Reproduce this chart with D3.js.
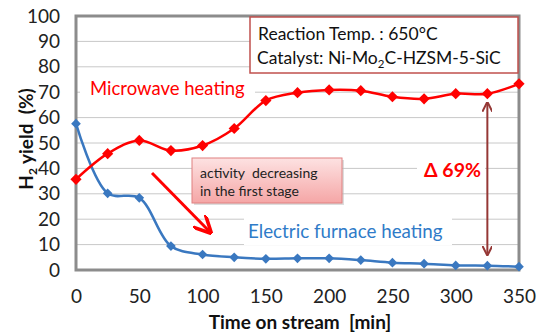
<!DOCTYPE html>
<html>
<head>
<meta charset="utf-8">
<script src="https://cdn.jsdelivr.net/npm/d3@7"></script>
<style>
  body { margin: 0; background: #fff; }
  svg { font-family: Lato, "Open Sans", sans-serif; }
  text { white-space: pre; }
</style>
</head>
<body>
<div id="chart"></div>
<script>
const times = [0, 25, 50, 75, 100, 125, 150, 175, 200, 225, 250, 275, 300, 325, 350];
const microwave = [35.7, 45.8, 51, 47, 49, 55.7, 66.7, 69.8, 70.9, 70.6, 68.2, 67.4, 69.4, 69.4, 73.3];
const electric = [57.6, 30.2, 28.4, 9.4, 6.1, 5, 4.4, 4.6, 4.6, 3.9, 2.9, 2.5, 1.8, 1.7, 1.3];
const xTicks = [0, 50, 100, 150, 200, 250, 300, 350];
const yTicks = [0, 10, 20, 30, 40, 50, 60, 70, 80, 90, 100];

const width = 538, height = 332;
const margin = { top: 16, right: 19, bottom: 62, left: 76 };

const svg = d3.select('#chart').append('svg')
    .attr('width', width)
    .attr('height', height);

const x = d3.scaleLinear().domain([0, 350]).range([margin.left, width - margin.right]);
const y = d3.scaleLinear().domain([0, 100]).range([height - margin.bottom, margin.top]);

// grid
svg.append('g')
    .selectAll('line')
    .data(yTicks.slice(1))
    .enter().append('line')
    .attr('x1', x(0)).attr('x2', x(350))
    .attr('y1', d => y(d)).attr('y2', d => y(d))
    .attr('stroke', '#c8c8c8')
    .attr('stroke-width', 1);

// frame
svg.append('rect')
    .attr('x', x(0)).attr('y', y(100))
    .attr('width', x(350) - x(0)).attr('height', y(0) - y(100))
    .attr('fill', 'none')
    .attr('stroke', '#8c8c8c')
    .attr('stroke-width', 3);

// axes
const yAxis = svg.append('g')
    .attr('transform', `translate(${x(0) - 16},0)`)
    .call(d3.axisLeft(y).tickValues(yTicks).tickSize(0).tickPadding(0));
yAxis.select('.domain').remove();
yAxis.selectAll('text')
    .attr('font-size', 19)
    .attr('font-family', 'Lato, sans-serif')
    .attr('fill', '#222');

const xAxis = svg.append('g')
    .attr('transform', `translate(0,${y(0) + 19})`)
    .call(d3.axisBottom(x).tickValues(xTicks).tickSize(0).tickPadding(0));
xAxis.select('.domain').remove();
xAxis.selectAll('text')
    .attr('font-size', 19)
    .attr('font-family', 'Lato, sans-serif')
    .attr('fill', '#222');

// axis titles
svg.append('text')
    .attr('x', 300).attr('y', 329)
    .attr('text-anchor', 'middle')
    .attr('font-size', 19)
    .attr('font-weight', 'bold')
    .attr('fill', '#111')
    .text('Time on stream  [min]');

const yTitle = svg.append('text')
    .attr('transform', 'translate(33,139) rotate(-90)')
    .attr('text-anchor', 'middle')
    .attr('font-size', 19)
    .attr('font-weight', 'bold')
    .attr('fill', '#111');
yTitle.append('tspan').text('H');
yTitle.append('tspan').attr('font-size', 12).attr('dy', 4).text('2');
yTitle.append('tspan').attr('dy', -4).text(' yield  (%)');

// label backgrounds
svg.append('rect').attr('x', 80).attr('y', 73).attr('width', 175).attr('height', 31).attr('fill', '#fff');
svg.append('rect').attr('x', 244).attr('y', 218).attr('width', 208).attr('height', 27).attr('fill', '#fff');
svg.append('rect').attr('x', 417).attr('y', 153).attr('width', 68).attr('height', 34).attr('fill', '#fff');

// series
const line = d3.line()
    .x((d, i) => x(times[i]))
    .y(d => y(d))
    .curve(d3.curveCatmullRom.alpha(0.5));

const diamond = d3.symbol().type(d3.symbolDiamond2);

function drawSeries(values, color, lw, size) {
    svg.append('path')
        .datum(values)
        .attr('d', line)
        .attr('fill', 'none')
        .attr('stroke', color)
        .attr('stroke-width', lw);
    svg.append('g')
        .selectAll('path')
        .data(values)
        .enter().append('path')
        .attr('transform', (d, i) => `translate(${x(times[i])},${y(d)})`)
        .attr('d', diamond.size(size))
        .attr('fill', color);
}

drawSeries(electric, '#3a78c0', 2.5, 60);
drawSeries(microwave, '#ff0000', 2.5, 80);

// series labels
svg.append('text')
    .attr('x', 90).attr('y', 95)
    .attr('font-size', 18.5)
    .attr('fill', '#ff0000')
    .text('Microwave heating');

svg.append('text')
    .attr('x', 248).attr('y', 238)
    .attr('font-size', 18.8)
    .attr('fill', '#2f7bc8')
    .text('Electric furnace heating');

svg.append('text')
    .attr('x', 424).attr('y', 177)
    .attr('font-size', 19.5)
    .attr('font-weight', 'bold')
    .attr('fill', '#ff0000')
    .text('Δ 69%');

// condition box
svg.append('rect')
    .attr('x', 250).attr('y', 17).attr('width', 268).attr('height', 56)
    .attr('fill', '#fff')
    .attr('stroke', '#c0504d')
    .attr('stroke-width', 1.5);
svg.append('text')
    .attr('x', 258).attr('y', 40)
    .attr('font-size', 17.5)
    .attr('fill', '#111')
    .text('Reaction Temp. : 650°C');
const cat = svg.append('text')
    .attr('x', 257).attr('y', 64)
    .attr('font-size', 17.5)
    .attr('fill', '#111');
cat.append('tspan').text('Catalyst: Ni-Mo');
cat.append('tspan').attr('font-size', 11.5).attr('dy', 4).text('2');
cat.append('tspan').attr('dy', -4).text('C-HZSM-5-SiC');

// arrows
const defs = svg.append('defs');
const grad = defs.append('linearGradient')
    .attr('id', 'pink').attr('x1', 0).attr('y1', 0).attr('x2', 0).attr('y2', 1);
grad.append('stop').attr('offset', '0%').attr('stop-color', '#fde2e2');
grad.append('stop').attr('offset', '100%').attr('stop-color', '#f5a6a6');

function marker(id, color, w) {
    defs.append('marker')
        .attr('id', id)
        .attr('viewBox', '0 0 10 10')
        .attr('refX', 8).attr('refY', 5)
        .attr('markerWidth', w).attr('markerHeight', w)
        .attr('orient', 'auto-start-reverse')
        .append('path')
        .attr('d', 'M0,0 L10,5 L0,10')
        .attr('fill', 'none')
        .attr('stroke', color)
        .attr('stroke-width', 2);
}
marker('redHead', '#ff0000', 6);
marker('darkHead', '#953735', 5);

svg.append('line')
    .attr('x1', 152).attr('y1', 173).attr('x2', 209).attr('y2', 231)
    .attr('stroke', '#ff0000')
    .attr('stroke-width', 3)
    .attr('marker-end', 'url(#redHead)');

svg.append('line')
    .attr('x1', x(325)).attr('y1', y(69.4) + 10)
    .attr('x2', x(325)).attr('y2', y(1.7) - 12)
    .attr('stroke', '#953735')
    .attr('stroke-width', 2)
    .attr('marker-start', 'url(#darkHead)')
    .attr('marker-end', 'url(#darkHead)');

// note box
svg.append('rect')
    .attr('x', 194).attr('y', 160).attr('width', 150).attr('height', 45)
    .attr('fill', '#bbb').attr('opacity', 0.5);
svg.append('rect')
    .attr('x', 192).attr('y', 158).attr('width', 150).attr('height', 45)
    .attr('fill', 'url(#pink)')
    .attr('stroke', '#e08080')
    .attr('stroke-width', 1);
svg.append('text')
    .attr('x', 200).attr('y', 178)
    .attr('font-size', 14)
    .attr('fill', '#222')
    .text('activity  decreasing');
svg.append('text')
    .attr('x', 200).attr('y', 196)
    .attr('font-size', 14)
    .attr('fill', '#222')
    .text('in the first stage');
</script>
</body>
</html>
